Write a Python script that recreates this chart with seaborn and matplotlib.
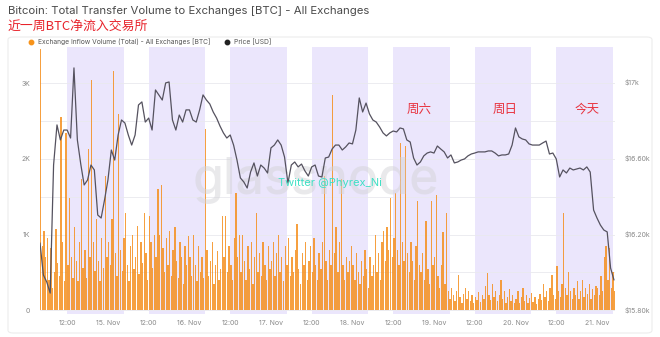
import numpy as np
import pandas as pd
import matplotlib
matplotlib.use("Agg")
import matplotlib.pyplot as plt
from matplotlib.lines import Line2D
from matplotlib.patches import FancyBboxPatch
import seaborn as sns

# Exchange inflow volume [BTC], 30-minute buckets (14 Nov from 04:00 to 21 Nov 05:00)
inflow_nov14 = [3450, 850, 1050, 700, 950, 400, 820, 300, 500, 1080, 620, 450, 2560, 900, 380, 2340,
                600, 1490, 700, 420, 1100, 650, 380, 900, 1740, 560, 800, 420, 2130, 700, 3050, 900,
                520, 1200, 650, 380, 950, 560, 1780, 700]
inflow_nov15 = [900, 600, 1200, 3160, 750, 450, 2600, 800, 520, 950, 1290, 600, 380, 850, 1000, 550,
                700, 1120, 480, 900, 620, 1290, 750, 400, 1240, 900, 560, 1000, 700, 1600, 1000, 1650,
                820, 500, 950, 600, 1050, 450, 800, 1100, 650, 420, 900, 700, 350, 850, 600, 980]
inflow_nov16 = [700, 450, 1000, 600, 380, 850, 500, 700, 420, 2390, 800, 450, 650, 900, 350, 600,
                780, 400, 550, 1250, 700, 1250, 500, 850, 600, 400, 950, 1550, 700, 1000, 500, 1000,
                650, 400, 850, 550, 900, 350, 700, 1290, 500, 750, 450, 900, 600, 400, 850, 550]
inflow_nov17 = [650, 900, 450, 750, 1000, 500, 700, 380, 850, 600, 950, 450, 700, 500, 800, 1140,
                550, 350, 750, 600, 900, 400, 650, 850, 500, 950, 600, 400, 750, 550, 900, 1780,
                650, 400, 800, 600, 2850, 750, 1100, 500, 900, 1740, 600, 400, 700, 500, 650, 850]
inflow_nov18 = [600, 400, 750, 500, 350, 650, 450, 800, 550, 300, 700, 450, 600, 1000, 500, 750,
                400, 900, 1050, 650, 1100, 800, 1480, 700, 950, 1550, 800, 600, 2210, 900, 650, 2170,
                750, 500, 900, 650, 400, 850, 1450, 600, 500, 750, 400, 1180, 550, 350, 1450, 600]
inflow_nov19 = [700, 1520, 450, 300, 600, 1030, 350, 1280, 250, 150, 300, 200, 120, 250, 460, 180,
                100, 220, 300, 150, 260, 120, 200, 90, 180, 130, 240, 110, 200, 150, 320, 490,
                200, 130, 350, 180, 250, 120, 200, 400, 150, 250, 100, 180, 280, 120, 200, 90]
inflow_nov20 = [150, 250, 100, 180, 300, 120, 200, 90, 160, 230, 110, 180, 80, 150, 220, 130,
                350, 180, 250, 120, 300, 460, 200, 150, 590, 250, 180, 350, 1290, 300, 200, 500,
                250, 150, 300, 200, 380, 150, 250, 400, 180, 300, 220, 350, 150, 280, 200, 320]
inflow_nov21 = [300, 200, 450, 250, 700, 850, 400, 820, 300, 500, 250]

# BTC price [USD], hourly (14 Nov 04:00 to 21 Nov 05:00)
price_nov14 = [16153, 15984, 15947, 15889, 16563, 16774, 16695, 16747, 16747, 16705, 17074, 16695,
               16568, 16458, 16484, 16563, 16537, 16300, 16284, 16379]
price_nov15 = [16484, 16642, 16589, 16721, 16800, 16784, 16721, 16668, 16721, 16879, 16895, 16789,
               16810, 16747, 16958, 16932, 16905, 16995, 17000, 16800, 16747, 16826, 16789, 16853]
price_nov16 = [16853, 16800, 16789, 16853, 16932, 16905, 16884, 16842, 16810, 16768, 16732, 16705,
               16721, 16668, 16589, 16495, 16474, 16442, 16526, 16574, 16505, 16563, 16547, 16521]
price_nov17 = [16653, 16668, 16695, 16668, 16605, 16468, 16563, 16579, 16553, 16568, 16532, 16505,
               16553, 16563, 16505, 16500, 16600, 16605, 16647, 16668, 16668, 16642, 16658, 16679]
price_nov18 = [16674, 16747, 16916, 16842, 16889, 16832, 16800, 16789, 16763, 16732, 16716, 16732,
               16742, 16737, 16758, 16753, 16695, 16684, 16600, 16563, 16579, 16611, 16626, 16632]
price_nov19 = [16626, 16663, 16647, 16632, 16600, 16616, 16574, 16579, 16589, 16595, 16611, 16621,
               16626, 16632, 16632, 16632, 16637, 16637, 16626, 16611, 16616, 16616, 16621, 16668]
price_nov20 = [16758, 16711, 16700, 16695, 16674, 16668, 16668, 16668, 16679, 16689, 16621, 16626,
               16595, 16500, 16537, 16521, 16547, 16537, 16542, 16547, 16537, 16553, 16526, 16326]
price_nov21 = [16284, 16247, 16221, 16211, 16021, 15958]

x_tick_labels = ["12:00", "15. Nov", "12:00", "16. Nov", "12:00", "17. Nov", "12:00", "18. Nov",
                 "12:00", "19. Nov", "12:00", "20. Nov", "12:00", "21. Nov"]
left_ticks = [0, 1000, 2000, 3000]
left_tick_labels = ["0", "1K", "2K", "3K"]
right_ticks = [15800, 16200, 16600, 17000]
right_tick_labels = ["$15.80k", "$16.20k", "$16.60k", "$17k"]
day_notes = ["周六", "周日", "今天"]
note_hours = [115.6, 140.9, 165.0]

inflow = np.concatenate([inflow_nov14, inflow_nov15, inflow_nov16, inflow_nov17,
                         inflow_nov18, inflow_nov19, inflow_nov20, inflow_nov21])
price = np.concatenate([price_nov14, price_nov15, price_nov16, price_nov17,
                        price_nov18, price_nov19, price_nov20, price_nov21])

# hours since 14 Nov 00:00
start_hour = 4.0
df_inflow = pd.DataFrame({"hour": start_hour + 0.5 * np.arange(len(inflow)), "inflow": inflow})
df_price = pd.DataFrame({"hour": start_hour + np.arange(len(price)), "price": price})

sns.set_theme(style="white")
plt.rcParams["font.family"] = ["Inter", "Noto Sans CJK SC", "DejaVu Sans"]

fig = plt.figure(figsize=(6.6, 3.37), dpi=100)
ax = fig.add_axes([40 / 660, 1 - 314 / 337, 575 / 660, 267 / 337])

# card outline
fig.patches.append(FancyBboxPatch((8 / 660, 4 / 337), 644 / 660, 296 / 337,
                                  boxstyle="round,pad=0,rounding_size=0.008",
                                  transform=fig.transFigure, fill=False,
                                  edgecolor="#ededed", linewidth=0.8, zorder=0))

xmin, xmax = 4.0, 173.3
# shaded 12:00 sessions
for d in range(7):
    s = 12 + 24 * d
    ax.axvspan(s, min(s + 16.7, xmax), color="#ebe6fc", lw=0, zorder=0)

ax.bar(df_inflow["hour"], df_inflow["inflow"], width=0.4, color="#f58f1e",
       alpha=0.85, linewidth=0, align="edge", zorder=2)

ax.set_xlim(xmin, xmax)
ax.set_ylim(-50, 3480)
ax.set_yticks(left_ticks)
ax.set_yticklabels(left_tick_labels)
ax.set_yticks([500, 1500, 2500], minor=True)
ax.grid(axis="y", which="both", color="#e9e9ee", linewidth=0.6, zorder=1)
ax.grid(axis="x", visible=False)
ax.set_xticks(12 + 12 * np.arange(len(x_tick_labels)))
ax.set_xticklabels(x_tick_labels)
ax.tick_params(axis="both", which="both", length=0, labelsize=5, colors="#8a8a8a")
ax.tick_params(axis="y", pad=7)
ax.tick_params(axis="x", pad=4)
for sp in ax.spines.values():
    sp.set_visible(False)
ax.set_xlabel("")
ax.set_ylabel("")

ax2 = ax.twinx()
sns.lineplot(data=df_price, x="hour", y="price", ax=ax2, color="#55525f",
             linewidth=0.9, zorder=4)
ax2.set_ylim(15779, 17184)
ax2.set_xlim(xmin, xmax)
ax2.set_yticks(right_ticks)
ax2.set_yticklabels(right_tick_labels)
ax2.tick_params(axis="y", length=0, labelsize=5, colors="#8a8a8a", pad=7)
ax2.grid(False)
for sp in ax2.spines.values():
    sp.set_visible(False)
ax2.set_xlabel("")
ax2.set_ylabel("")

# watermark and handle
ax2.text(0.48, 0.5, "glassnode", transform=ax2.transAxes, ha="center", va="center",
         fontsize=36, color="#d4d4d8", alpha=0.5, zorder=3, fontweight="medium")
ax2.text(0.505, 0.49, "Twitter @Phyrex_Ni", transform=ax2.transAxes, ha="center",
         va="center", fontsize=8, color="#3fe0c5", zorder=6)

# weekday notes
for note, h in zip(day_notes, note_hours):
    ax2.text(h, 16855, note, ha="center", va="center", fontsize=9, color="#e8333f", zorder=6)

# titles
fig.text(8 / 660, 1 - 11 / 337, "Bitcoin: Total Transfer Volume to Exchanges [BTC] - All Exchanges",
         ha="left", va="center", fontsize=8.2, color="#4a4a4a")
fig.text(8 / 660, 1 - 27 / 337, "近一周BTC净流入交易所", ha="left", va="center",
         fontsize=9.3, color="#e8232b",
         family=["Noto Sans CJK SC", "DejaVu Sans"])

handles = [Line2D([], [], marker="o", linestyle="", markersize=3.2, color="#f7931a"),
           Line2D([], [], marker="o", linestyle="", markersize=3.2, color="#222222")]
fig.legend(handles, ["Exchange Inflow Volume (Total) - All Exchanges [BTC]", "Price [USD]"],
           loc="center left", bbox_to_anchor=(24 / 660, 1 - 42 / 337), ncol=2, frameon=False,
           fontsize=4.8, handletextpad=0.1, columnspacing=1.5, labelcolor="#555555",
           borderaxespad=0, borderpad=0)

fig.savefig("out.png", dpi=100)
